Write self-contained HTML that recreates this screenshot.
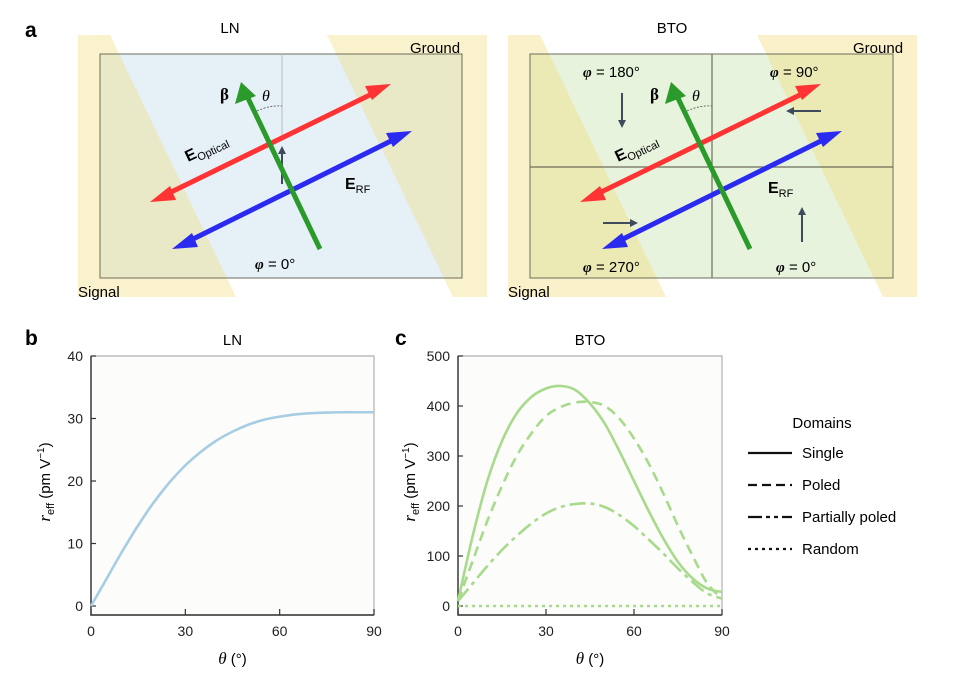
<!DOCTYPE html>
<html><head><meta charset="utf-8"><style>
body{margin:0;background:#fff}
svg{display:block;font-family:"Liberation Sans",sans-serif}
</style></head><body>
<svg id="fig" width="957" height="675" viewBox="0 0 957 675">
<defs>
<marker id="ah" markerWidth="4" markerHeight="4" refX="2" refY="2" orient="auto"><path d="M0,0 L4,2 L0,4 z" fill="context-stroke"/></marker>
</defs>
<g>
<text x="25" y="37" font-size="21" font-weight="bold">a</text>
<g>
<rect x="100" y="54" width="362" height="224" fill="#e6f0f7"/>
<polygon points="78,35 110,35 236,297 78,297" fill="#f3dc7a" opacity="0.38"/>
<polygon points="327,35 487,35 487,297 453,297" fill="#f3dc7a" opacity="0.38"/>
<rect x="100" y="54" width="362" height="224" fill="none" stroke="#6d6d5c" stroke-width="1"/>
<line x1="282" y1="54" x2="282" y2="140" stroke="#bbb" stroke-width="1"/>
<path d="M257,111 Q270,105 282,106" fill="none" stroke="#555" stroke-width="0.8" stroke-dasharray="2,1.5"/>
<line x1="282" y1="184" x2="282" y2="150" stroke="#3f4a5c" stroke-width="2" marker-end="url(#ah)"/>
<line x1="163" y1="196" x2="378" y2="91" stroke="#ff3333" stroke-width="5"/>
<polygon points="150,202 170,186 176,200" fill="#ff3333"/><polygon points="391,84 365,86 372,100" fill="#ff3333"/>
<line x1="185" y1="243" x2="399" y2="137" stroke="#2a2af0" stroke-width="5"/>
<polygon points="172,249 192,233 198,247" fill="#2a2af0"/><polygon points="412,131 386,133 393,147" fill="#2a2af0"/>
<line x1="320" y1="249" x2="246" y2="94" stroke="#2a9a2a" stroke-width="5"/>
<polygon points="241,82 235,104 256,96" fill="#2a9a2a"/>
<text x="230" y="33" font-size="15" text-anchor="middle">LN</text>
<text x="410" y="53" font-size="15">Ground</text>
<text x="78" y="297" font-size="15">Signal</text>
<text x="220" y="100" font-size="17" font-weight="bold" font-family="Liberation Serif">β</text>
<text x="262" y="101" font-size="16" font-style="italic" font-family="Liberation Serif">θ</text>
<text transform="translate(188,162) rotate(-25)" font-size="15"><tspan font-weight="bold" font-size="16">E</tspan><tspan font-size="11" dy="4">Optical</tspan></text>
<text x="345" y="189" font-size="16" font-weight="bold">E<tspan font-size="11" font-weight="normal" dy="4">RF</tspan></text>
<text x="255" y="269" font-size="15"><tspan font-style="italic" font-weight="bold" font-family="Liberation Serif">φ</tspan> = 0°</text>
</g>
<g>
<rect x="530" y="54" width="363" height="224" fill="#e7f3dc"/>
<polygon points="508,35 540,35 666,297 508,297" fill="#f3dc7a" opacity="0.4"/>
<polygon points="757,35 917,35 917,297 883,297" fill="#f3dc7a" opacity="0.4"/>
<rect x="530" y="54" width="363" height="224" fill="none" stroke="#6d6d5c" stroke-width="1"/>
<line x1="712" y1="54" x2="712" y2="278" stroke="#6d6d5c" stroke-width="1.2"/>
<line x1="530" y1="167" x2="893" y2="167" stroke="#6d6d5c" stroke-width="1.2"/>
<path d="M687,111 Q700,105 712,106" fill="none" stroke="#555" stroke-width="0.8" stroke-dasharray="2,1.5"/>
<line x1="622" y1="93" x2="622" y2="124" stroke="#3f4a5c" stroke-width="2" marker-end="url(#ah)"/>
<line x1="821" y1="111" x2="790" y2="111" stroke="#3f4a5c" stroke-width="2" marker-end="url(#ah)"/>
<line x1="603" y1="223" x2="634" y2="223" stroke="#3f4a5c" stroke-width="2" marker-end="url(#ah)"/>
<line x1="802" y1="242" x2="802" y2="211" stroke="#3f4a5c" stroke-width="2" marker-end="url(#ah)"/>
<line x1="593" y1="196" x2="808" y2="91" stroke="#ff3333" stroke-width="5"/>
<polygon points="580,202 600,186 606,200" fill="#ff3333"/><polygon points="821,84 795,86 802,100" fill="#ff3333"/>
<line x1="615" y1="243" x2="829" y2="137" stroke="#2a2af0" stroke-width="5"/>
<polygon points="602,249 622,233 628,247" fill="#2a2af0"/><polygon points="842,131 816,133 823,147" fill="#2a2af0"/>
<line x1="750" y1="249" x2="676" y2="94" stroke="#2a9a2a" stroke-width="5"/>
<polygon points="671,82 665,104 686,96" fill="#2a9a2a"/>
<text x="672" y="33" font-size="15" text-anchor="middle">BTO</text>
<text x="853" y="53" font-size="15">Ground</text>
<text x="508" y="297" font-size="15">Signal</text>
<text x="650" y="100" font-size="17" font-weight="bold" font-family="Liberation Serif">β</text>
<text x="692" y="101" font-size="16" font-style="italic" font-family="Liberation Serif">θ</text>
<text transform="translate(618,162) rotate(-25)" font-size="15"><tspan font-weight="bold" font-size="16">E</tspan><tspan font-size="11" dy="4">Optical</tspan></text>
<text x="768" y="193" font-size="16" font-weight="bold">E<tspan font-size="11" font-weight="normal" dy="4">RF</tspan></text>
<text x="583" y="77" font-size="15"><tspan font-style="italic" font-weight="bold" font-family="Liberation Serif">φ</tspan> = 180°</text>
<text x="770" y="77" font-size="15"><tspan font-style="italic" font-weight="bold" font-family="Liberation Serif">φ</tspan> = 90°</text>
<text x="583" y="272" font-size="15"><tspan font-style="italic" font-weight="bold" font-family="Liberation Serif">φ</tspan> = 270°</text>
<text x="776" y="272" font-size="15"><tspan font-style="italic" font-weight="bold" font-family="Liberation Serif">φ</tspan> = 0°</text>
</g>
</g>
<text x="25" y="345" font-size="21" font-weight="bold">b</text>
<text x="395" y="345" font-size="21" font-weight="bold">c</text>
<g id="chartB"></g>
<g id="chartC"></g>
<g>
<text x="822" y="428" font-size="15" text-anchor="middle">Domains</text>
<line x1="748" y1="453" x2="792" y2="453" stroke="#111" stroke-width="2.2"/>
<text x="802" y="458" font-size="15">Single</text>
<line x1="748" y1="485" x2="792" y2="485" stroke="#111" stroke-width="2.2" stroke-dasharray="9,5"/>
<text x="802" y="490" font-size="15">Poled</text>
<line x1="748" y1="517" x2="792" y2="517" stroke="#111" stroke-width="2.2" stroke-dasharray="14,4,4,4,4,4"/>
<text x="802" y="522" font-size="15">Partially poled</text>
<line x1="748" y1="549" x2="792" y2="549" stroke="#111" stroke-width="2.2" stroke-dasharray="3,4"/>
<text x="802" y="554" font-size="15">Random</text>
</g>
</svg>
<script>
const thetaB = [0,5,10,15,20,25,30,35,40,45,50,55,60,65,70,75,80,85,90];
const lnValues = [0,4.4,8.8,12.9,16.6,19.8,22.5,24.7,26.5,27.9,29.0,29.8,30.3,30.65,30.85,30.95,31,31,31];
const yTicksB = [0,10,20,30,40];
const xTicks = [0,30,60,90];
const thetaC = [0,5,10,15,20,25,30,35,40,45,50,55,60,65,70,75,80,85,90];
const singleValues = [10,140,250,330,385,418,435,440,432,405,365,310,250,190,135,88,55,35,28];
const poledValues = [10,90,170,240,300,345,380,398,407,408,400,375,335,285,225,160,100,45,15];
const partialValues = [10,45,80,112,140,165,185,198,204,205,198,182,160,133,105,75,48,25,15];
const randomValues = [0,0,0,0,0,0,0,0,0,0,0,0,0,0,0,0,0,0,0];
const yTicksC = [0,100,200,300,400,500];
const NS="http://www.w3.org/2000/svg";
function mk(p,tag,a,t){const e=document.createElementNS(NS,tag);for(const k in a)e.setAttribute(k,a[k]);if(t!==undefined)e.textContent=t;p.appendChild(e);return e;}
function chart(g,x0,x1,yTop,yZero,yMax,yTicks,title,yLabelX,series){
  const xs=v=>x0+(v/90)*(x1-x0);
  const ys=v=>yZero-(v/yMax)*(yZero-yTop);
  const yBot=615;
  const bg=mk(g,'rect',{x:x0,y:yTop,width:x1-x0,height:yBot-yTop,fill:'#fcfcfa'});
  
  
  mk(g,'path',{d:`M${x0},${yTop}H${x1}V${yBot}H${x0}Z`,fill:'none',stroke:'#b0b0b0','stroke-width':1.2});
  const ax=mk(g,'path',{d:`M${x0},${yTop}V${yBot}H${x1}`,fill:'none',stroke:'#333','stroke-width':1.4});
  
  
  yTicks.forEach(v=>{const y=ys(v);
    mk(g,'line',{x1:x0,x2:x0+5,y1:y,y2:y,stroke:'#333','stroke-width':1.2});
    const t=mk(g,'text',{x:x0-8,y:y+5,'font-size':14,'text-anchor':'end',fill:'#222'},v);
    
    });
  xTicks.forEach(v=>{const x=xs(v);
    mk(g,'line',{x1:x,x2:x,y1:yBot,y2:yBot-6,stroke:'#333','stroke-width':1.2});
    const t=mk(g,'text',{x:x,y:636,'font-size':14,'text-anchor':'middle',fill:'#222'},v);
    
    });
  const tt=mk(g,'text',{x:(x0+x1)/2,y:345,'font-size':15,'text-anchor':'middle'},title);
  
  
  const xl=mk(g,'text',{x:(x0+x1)/2,y:664,'font-size':15,'text-anchor':'middle'});
  xl.innerHTML='<tspan font-style="italic" font-family="Liberation Serif" font-size="17">θ</tspan> (°)';
  
  
  const yl=mk(g,'text',{transform:`translate(${yLabelX},482) rotate(-90)`,'font-size':15,'text-anchor':'middle'});
  yl.innerHTML='<tspan font-style="italic" font-family="Liberation Serif" font-size="17">r</tspan><tspan font-size="11" dy="4">eff</tspan><tspan dy="-4"> (pm V</tspan><tspan font-size="10" dy="-6">−1</tspan><tspan dy="6">)</tspan>';
  
  
  series.forEach(s=>{
    const pts=s.x.map((v,i)=>[xs(v),ys(s.y[i])]);
    let d=`M${pts[0][0]},${pts[0][1]}`;
    for(let i=0;i<pts.length-1;i++){const p0=pts[Math.max(0,i-1)],p1=pts[i],p2=pts[i+1],p3=pts[Math.min(pts.length-1,i+2)];
      d+=`C${p1[0]+(p2[0]-p0[0])/6},${p1[1]+(p2[1]-p0[1])/6} ${p2[0]-(p3[0]-p1[0])/6},${p2[1]-(p3[1]-p1[1])/6} ${p2[0]},${p2[1]}`;}
    const p=mk(g,'path',{d:d,fill:'none',stroke:s.c,'stroke-width':2.6,'stroke-dasharray':s.dash||'none'});
    
    
  });
}
chart(document.getElementById('chartB'),91,374,356,606,40,yTicksB,'LN',50,[{x:thetaB,y:lnValues,c:'#a6cde3',name:'ln-curve'}]);
chart(document.getElementById('chartC'),458,722,356,606,500,yTicksC,'BTO',415,[
 {x:thetaC,y:singleValues,c:'#a8da8c',name:'single-curve'},
 {x:thetaC,y:poledValues,c:'#a8da8c',dash:'10,6',name:'poled-curve'},
 {x:thetaC,y:partialValues,c:'#a8da8c',dash:'16,5,4,5',name:'partially-poled-curve'},
 {x:thetaC,y:randomValues,c:'#a8da8c',dash:'3,4',name:'random-curve'}]);
</script>
</body></html>
